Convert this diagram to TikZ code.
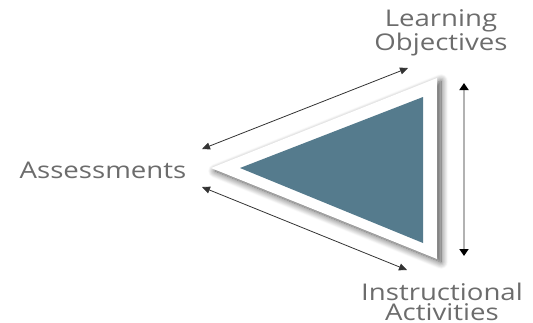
\documentclass[tikz,border=0pt]{standalone}
\usepackage{fontspec}
\setmainfont{Open Sans}[FakeStretch=1.2]
\usetikzlibrary{arrows.meta,shadows.blur}
\definecolor{tri}{HTML}{557B8D}
\definecolor{lbl}{HTML}{6C6C6C}
\tikzset{
  lab/.style={font=\fontsize{23}{20}\selectfont, text=lbl, align=center, inner sep=0pt, anchor=base},
  link/.style={draw=black!80, line width=0.8pt, {Triangle[length=8pt,width=7pt]}-{Triangle[length=8pt,width=7pt]}},
  vlink/.style={draw=black!30, line width=2pt, {Triangle[length=7pt,width=9pt,color=black,fill=black]}-{Triangle[length=7pt,width=9pt,color=black,fill=black]}}
}
\begin{document}
\begin{tikzpicture}[x=1pt,y=-1pt]
\useasboundingbox (0,0) rectangle (533,322);
% outer white triangle with shadow
\path[fill=white, blur shadow={shadow xshift=4pt, shadow yshift=-3pt, shadow blur radius=7pt, shadow blur steps=12, shadow opacity=70}]
  (211,168) -- (437,78) -- (437,259) -- cycle;
\fill[tri] (240,168) -- (423,97) -- (423,243) -- cycle;
% labels
\node[lab] (lo) at (441,50) {Learning\\Objectives};
\node[lab] (as) at (103,178) {Assessments};
\node[lab] (ia) at (442,320) {Instructional\\Activities};
% arrow ends
\coordinate (a1) at (202,149);
\coordinate (b1) at (408,68);
\coordinate (a2) at (202,187);
\coordinate (b2) at (407,270);
\coordinate (c1) at (464,83);
\coordinate (c2) at (464,256);
\draw[link] (a1) -- (b1);
\draw[link] (a2) -- (b2);
\draw[vlink] (c1) -- (c2);
\end{tikzpicture}
\end{document}
